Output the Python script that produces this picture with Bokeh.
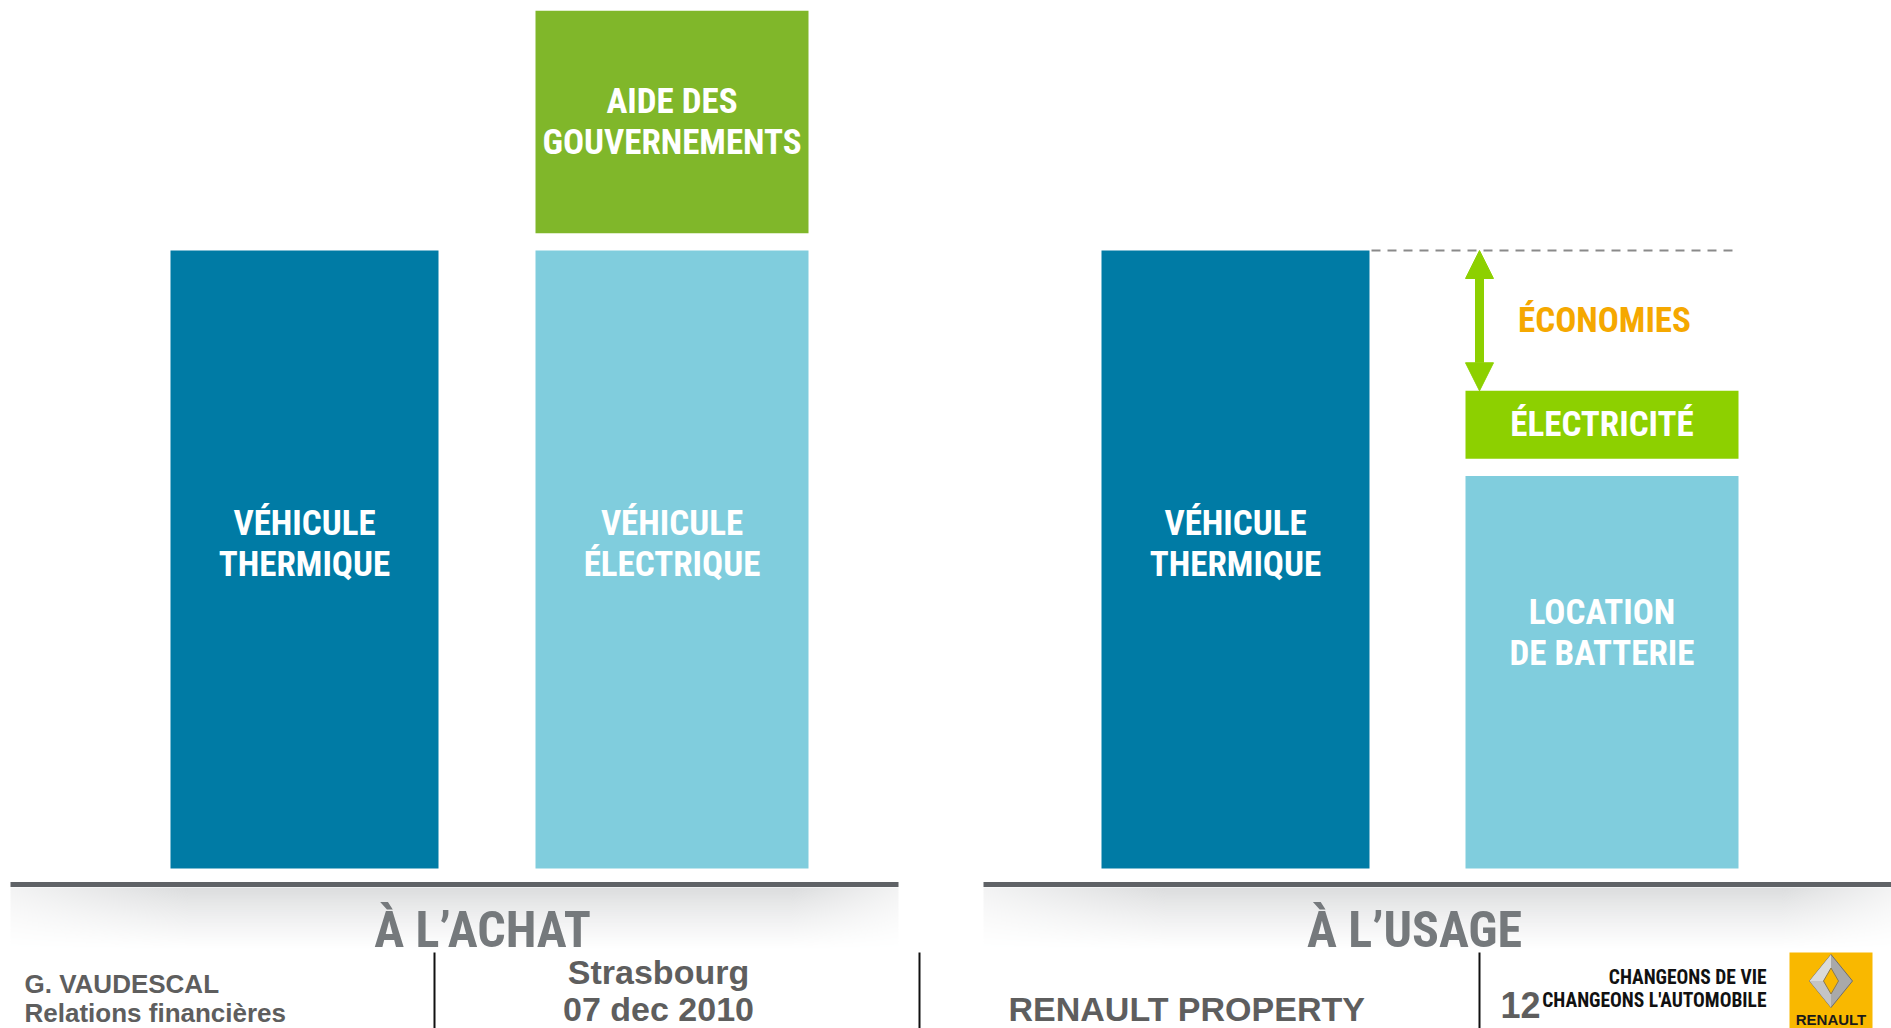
import numpy as np
from bokeh.plotting import figure
from bokeh.models import Range1d, Arrow, NormalHead
from bokeh.core.properties import value
from bokeh.embed import file_html
from bokeh.resources import INLINE

# ---------------- data ----------------
panel_titles = ["À L’ACHAT", "À L’USAGE"]

achat_labels = ["VÉHICULE\nTHERMIQUE", "VÉHICULE\nÉLECTRIQUE"]
achat_values = [100, 100]
aide_label = "AIDE DES\nGOUVERNEMENTS"
aide_value = 36

usage_labels = ["VÉHICULE\nTHERMIQUE", "LOCATION\nDE BATTERIE"]
usage_values = [100, 63.5]
electricite_label = "ÉLECTRICITÉ"
electricite_value = 11
economies_label = "ÉCONOMIES"

footer_left = ["G. VAUDESCAL", "Relations financières"]
footer_mid = ["Strasbourg", "07 dec 2010"]
footer_property = "RENAULT PROPERTY"
page_number = "12"
slogan = ["CHANGEONS DE VIE", "CHANGEONS L'AUTOMOBILE"]
brand = "RENAULT"

# ---------------- layout ----------------
W, H = 1891, 1028
PX = 6.18                      # pixels per value unit
BASE = 868                     # baseline, px from top of page
GAP = 2.8                      # gap between stacked blocks (units)

def Y(full_y):                 # screenshot y -> data y
    return (BASE - full_y) / PX

def X(full_x):
    return full_x

DARK = "#007BA5"
LIGHT = "#80CDDD"
GREEN1 = "#80B72A"
GREEN2 = "#8DD000"
ORANGE = "#F5A800"
GRAYTXT = "#75797C"
FOOT = "#5E5E5E"
NARROW = value("'Roboto Condensed', 'Liberation Sans Narrow', 'Liberation Sans'")
SANS = value("'Liberation Sans', Arial")

p = figure(width=W, height=H, output_backend="svg", toolbar_location=None,
           x_range=Range1d(0, W), y_range=Range1d(-(H - BASE) / PX, BASE / PX),
           min_border=0, outline_line_color=None, background_fill_color="white")
p.axis.visible = False
p.grid.visible = False

LABEL = dict(text_color="white", text_font=NARROW, text_font_style="bold",
             text_font_size="35px", text_align="center", text_baseline="middle",
             text_line_height=1.0)

# ---------------- bars ----------------
bar_x = [X(304), X(671.5), X(1235), X(1601.5)]
bar_w = [268, 273, 268, 273]
vals = achat_values + usage_values
cols = [DARK, LIGHT, DARK, LIGHT]
p.vbar(x=bar_x, width=bar_w, bottom=0, top=vals, fill_color=cols, line_color=None)

# aide (stacked above electric vehicle)
aide_bottom = achat_values[1] + GAP
p.vbar(x=[bar_x[1]], width=[bar_w[1]], bottom=[aide_bottom], top=[aide_bottom + aide_value],
       fill_color=GREEN1, line_color=None)

# electricity (stacked above battery)
el_bottom = usage_values[1] + GAP
el_top = el_bottom + electricite_value
p.vbar(x=[bar_x[3]], width=[bar_w[3]], bottom=[el_bottom], top=[el_top],
       fill_color=GREEN2, line_color=None)

# bar labels
lab_y = [vals[0] * 0.525, vals[1] * 0.525, vals[2] * 0.525, vals[3] * 0.6]
p.text(x=bar_x, y=lab_y, text=achat_labels + usage_labels, **LABEL)
p.text(x=[bar_x[1]], y=[aide_bottom + aide_value / 2], text=[aide_label], **LABEL)
p.text(x=[bar_x[3]], y=[(el_bottom + el_top) / 2], text=[electricite_label], **LABEL)

# dashed reference line & savings arrow
p.line(x=[bar_x[2] + bar_w[2] / 2 + 2, bar_x[3] + bar_w[3] / 2], y=[usage_values[0]] * 2,
       line_color="#8a8a8a", line_width=2, line_dash="9 7")
arrow_x = X(1479)
p.add_layout(Arrow(x_start=arrow_x, y_start=el_top, x_end=arrow_x, y_end=usage_values[0],
                   line_color=GREEN2, line_width=9,
                   start=NormalHead(size=28, fill_color=GREEN2, line_color=GREEN2),
                   end=NormalHead(size=28, fill_color=GREEN2, line_color=GREEN2)))
p.text(x=[X(1604)], y=[(el_top + usage_values[0]) / 2], text=[economies_label],
       text_color=ORANGE, text_font=NARROW, text_font_style="bold", text_font_size="35px",
       text_align="center", text_baseline="middle")

# ---------------- panel baselines with shadow ----------------
line_y = Y(884)
for x0, x1 in [(X(10), X(898)), (X(983), W)]:
    w = int(x1 - x0)
    hh = 64
    img = np.zeros((hh, w), dtype=np.uint32)
    v = img.view(dtype=np.uint8).reshape((hh, w, 4))
    t = np.linspace(1, 0, hh)[:, None]          # row 0 = bottom
    xs = np.linspace(0, 1, w)[None, :]
    edge = np.clip(np.minimum(xs / 0.2, (1 - xs) / 0.12), 0, 1)
    alpha = 0.55 * (1 - t) ** 1.3 * (0.35 + 0.65 * edge)
    v[:, :, 0] = 190
    v[:, :, 1] = 192
    v[:, :, 2] = 194
    v[:, :, 3] = (alpha * 255).astype(np.uint8)
    p.image_rgba(image=[img], x=x0, y=Y(952), dw=w, dh=Y(887) - Y(952))
    p.line(x=[x0, x1], y=[line_y, line_y], line_color="#5F6266", line_width=5)

p.text(x=[X(482), X(1414)], y=[Y(929)] * 2, text=panel_titles, text_color=GRAYTXT,
       text_font=NARROW, text_font_style="bold", text_font_size="50px",
       text_align="center", text_baseline="middle")

# ---------------- footer ----------------
for fx in [434, 919, 1479]:
    p.line(x=[X(fx), X(fx)], y=[Y(952), Y(1040)], line_color="#111111", line_width=2)

p.text(x=[X(24)] * 2, y=[Y(983), Y(1012)], text=footer_left, text_color=FOOT,
       text_font=SANS, text_font_style="bold", text_font_size="26px",
       text_align="left", text_baseline="middle")
p.text(x=[X(658)] * 2, y=[Y(971), Y(1008)], text=footer_mid, text_color=FOOT,
       text_font=SANS, text_font_style="bold", text_font_size="34px",
       text_align="center", text_baseline="middle")
p.text(x=[X(1008)], y=[Y(1008)], text=[footer_property], text_color=FOOT,
       text_font=SANS, text_font_style="bold", text_font_size="34px",
       text_align="left", text_baseline="middle")
p.text(x=[X(1500)], y=[Y(1004)], text=[page_number], text_color=FOOT,
       text_font=SANS, text_font_style="bold", text_font_size="36px",
       text_align="left", text_baseline="middle")
p.text(x=[X(1766)] * 2, y=[Y(977), Y(1000)], text=slogan, text_color="#111111",
       text_font=NARROW, text_font_style="bold", text_font_size="19.5px",
       text_align="right", text_baseline="middle")

# Renault logo
p.quad(left=[X(1789)], right=[X(1872)], top=[Y(952)], bottom=[Y(1040)],
       fill_color="#F9B800", line_color=None)
cx, cy = X(1830.5), Y(980.5)
hw, hh_ = 21.5, 26.5 / PX
iw, ih = 7.5, 13 / PX
# outer silver lozenge (two shaded faces) and yellow centre
p.patch(x=[cx, cx + hw, cx, cx - hw], y=[cy + hh_, cy, cy - hh_, cy],
        fill_color="#A9A9A9", line_color="#6E6E6E", line_width=1)
p.patch(x=[cx, cx - hw, cx - iw, cx], y=[cy + hh_, cy, cy, cy + ih],
        fill_color="#DADADA", line_color=None)
p.patch(x=[cx - hw, cx, cx, cx - iw], y=[cy, cy - hh_, cy - ih, cy],
        fill_color="#C4C4C4", line_color=None)
p.patch(x=[cx, cx + iw, cx, cx - iw], y=[cy + ih, cy, cy - ih, cy],
        fill_color="#F9B800", line_color="#8A7A50", line_width=1)
p.text(x=[cx], y=[Y(1018.5)], text=[brand], text_color="#1A1A1A",
       text_font=SANS, text_font_style="bold", text_font_size="15px",
       text_align="center", text_baseline="middle")

open("out.html", "w").write(file_html(p, INLINE))
